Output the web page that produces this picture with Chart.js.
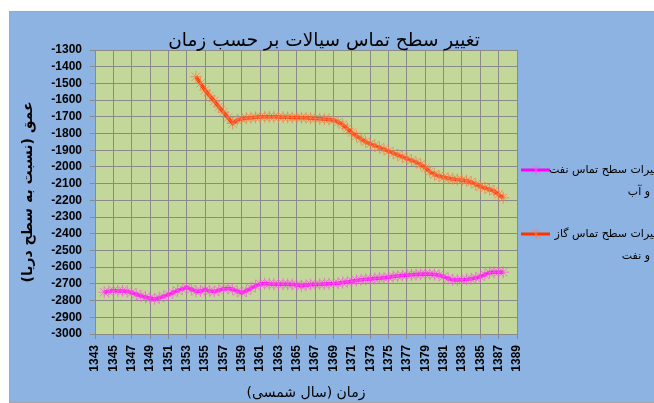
<!DOCTYPE html>
<html>
<head>
<meta charset="utf-8">
<script src="https://cdn.jsdelivr.net/npm/chart.js@4.4.0/dist/chart.umd.min.js"></script>
<style>
    html, body { margin: 0; padding: 0; background: #fff; overflow: hidden; width: 654px; height: 403px; }
    #box { position: absolute; left: 9px; top: 11px; width: 650px; height: 390px; border: 1px solid #a6a6a6; background: #8db3e2; }
</style>
</head>
<body>
<div id="box"><canvas id="depthChart"></canvas></div>
<script>
const ctx_depth = document.querySelector('#depthChart').getContext('2d');

const RLM = '\u200F';
const chart_title = 'تغییر سطح تماس سیالات بر حسب زمان';
const x_title = 'زمان (سال شمسی)' + RLM;
const y_title = 'عمق (نسبت به سطح دریا)' + RLM;

// series names, wrapped on two lines
const legend_lines = [
    ['تغییرات سطح تماس نفت', 'و آب'],
    ['تغییرات سطح تماس گاز', 'و نفت'],
];

// oil-water contact (magenta)
const ow_years = [1344, 1344.5, 1345, 1345.5, 1346, 1346.5, 1347, 1347.5, 1348, 1348.5,
    1349, 1349.5, 1350, 1350.5, 1351, 1351.5, 1352, 1352.5, 1353, 1353.5,
    1354, 1354.5, 1355, 1355.5, 1356, 1356.5, 1357, 1357.5, 1358, 1358.5,
    1359, 1359.5, 1360, 1360.5, 1361, 1361.5, 1362, 1362.5, 1363, 1363.5,
    1364, 1364.5, 1365, 1365.5, 1366, 1366.5, 1367, 1367.5, 1368, 1368.5,
    1369, 1369.5, 1370, 1370.5, 1371, 1371.5, 1372, 1372.5, 1373, 1373.5,
    1374, 1374.5, 1375, 1375.5, 1376, 1376.5, 1377, 1377.5, 1378, 1378.5,
    1379, 1379.5, 1380, 1380.5, 1381, 1381.5, 1382, 1382.5, 1383, 1383.5,
    1384, 1384.5, 1385, 1385.5, 1386, 1386.5, 1387, 1387.5];
const ow_depth = [-2750, -2745, -2740, -2742, -2742, -2745, -2752, -2762, -2772, -2780,
    -2786, -2790, -2784, -2775, -2765, -2752, -2740, -2730, -2722, -2732,
    -2745, -2742, -2736, -2742, -2746, -2738, -2730, -2728, -2732, -2745,
    -2752, -2742, -2726, -2712, -2700, -2698, -2700, -2702, -2702, -2702,
    -2702, -2703, -2706, -2712, -2708, -2704, -2703, -2702, -2700, -2699,
    -2698, -2696, -2692, -2688, -2684, -2679, -2676, -2673, -2671, -2668,
    -2666, -2663, -2660, -2656, -2653, -2650, -2648, -2646, -2644, -2642,
    -2641, -2642, -2644, -2648, -2656, -2668, -2676, -2677, -2676, -2673,
    -2669, -2664, -2657, -2645, -2632, -2630, -2630, -2630];

// gas-oil contact (orange)
const go_years = [1354, 1354.5, 1355, 1355.5, 1356, 1356.5, 1357, 1357.5, 1358, 1358.5,
    1359, 1359.5, 1360, 1360.5, 1361, 1361.5, 1362, 1362.5, 1363, 1363.5,
    1364, 1364.5, 1365, 1365.5, 1366, 1366.5, 1367, 1367.5, 1368, 1368.5,
    1369, 1369.5, 1370, 1370.5, 1371, 1371.5, 1372, 1372.5, 1373, 1373.5,
    1374, 1374.5, 1375, 1375.5, 1376, 1376.5, 1377, 1377.5, 1378, 1378.5,
    1379, 1379.5, 1380, 1380.5, 1381, 1381.5, 1382, 1382.5, 1383, 1383.5,
    1384, 1384.5, 1385, 1385.5, 1386, 1386.5, 1387, 1387.5];
const go_depth = [-1460, -1500, -1540, -1575, -1605, -1640, -1672, -1705, -1740, -1718,
    -1712, -1708, -1705, -1703, -1700, -1700, -1700, -1700, -1701, -1702,
    -1703, -1704, -1704, -1705, -1706, -1708, -1710, -1712, -1714, -1716,
    -1720, -1730, -1748, -1770, -1795, -1815, -1832, -1850, -1862, -1872,
    -1883, -1895, -1905, -1917, -1928, -1940, -1950, -1960, -1972, -1985,
    -2005, -2028, -2045, -2055, -2062, -2068, -2072, -2076, -2079, -2082,
    -2090, -2105, -2118, -2126, -2134, -2145, -2165, -2185];

const x_min = 1343, x_max = 1389, x_step = 2;
const y_min = -3000, y_max = -1300, y_step = 100;

const color_lst = ['#ff00ff', '#ff3300'];
const marker_lst = ['rgba(250, 80, 230, 0.7)', 'rgba(245, 120, 70, 0.75)'];

const grid_color = '#8a8a8a';
const tick_font = {family: 'Liberation Sans', size: 12, weight: 'bold'};

function toPoints(xs, ys) {
    return xs.map((x, i) => ({x: x, y: ys[i]}));
}

// green plot background
const plotBg = {
    id: 'plotBg',
    beforeDraw(chart) {
        const {ctx, chartArea: a} = chart;
        ctx.save();
        ctx.fillStyle = '#c4d79b';
        ctx.fillRect(a.left, a.top, a.right - a.left, a.bottom - a.top);
        ctx.restore();
    }
};

function drawStar(ctx, cx, cy, r) {
    ctx.beginPath();
    ctx.moveTo(cx, cy - r); ctx.lineTo(cx, cy + r);
    const d = r * 0.707;
    ctx.moveTo(cx - d, cy - d); ctx.lineTo(cx + d, cy + d);
    ctx.moveTo(cx - d, cy + d); ctx.lineTo(cx + d, cy - d);
    ctx.stroke();
}

// title + legend on the right (rtl text, two lines)
const sideText = {
    id: 'sideText',
    afterDraw(chart) {
        const ctx = chart.ctx;
        ctx.save();
        ctx.fillStyle = '#000';
        ctx.textBaseline = 'middle';
        ctx.textAlign = 'center';
        ctx.font = '18.5px "DejaVu Sans"';
        ctx.fillText(chart_title, 314, 29);

        const rows = [158, 222];
        ctx.font = '11px "DejaVu Sans"';
        ctx.textAlign = 'right';
        rows.forEach((y, i) => {
            ctx.strokeStyle = color_lst[i];
            ctx.lineWidth = 3;
            ctx.beginPath();
            ctx.moveTo(511, y); ctx.lineTo(540, y);
            ctx.stroke();
            ctx.strokeStyle = marker_lst[i];
            ctx.lineWidth = 1;
            drawStar(ctx, 526, y, 5.5);
            ctx.fillStyle = '#000';
            ctx.fillText(legend_lines[i][0], 655, y);
            ctx.fillText(legend_lines[i][1], 640, y + 22);
        });
        ctx.restore();
    }
};

const data_depth = {
    datasets: [
        {
            label: legend_lines[0].join(' '),
            data: toPoints(ow_years, ow_depth),
        },
        {
            label: legend_lines[1].join(' '),
            data: toPoints(go_years, go_depth),
        },
    ].map((d, i) => Object.assign(d, {
        borderColor: color_lst[i],
        borderWidth: 3.5,
        pointStyle: 'star',
        pointRadius: 6,
        pointBorderWidth: 1,
        pointBorderColor: marker_lst[i],
        pointBackgroundColor: marker_lst[i],
        fill: false,
        tension: 0,
    })),
};

const config_depth = {
    type: 'line',
    data: data_depth,
    plugins: [plotBg, sideText],
    options: {
        responsive: true,
        maintainAspectRatio: false,
        animation: false,
        layout: {padding: {left: 0, right: 143, top: 38, bottom: 0}},
        plugins: {
            legend: {display: false},
            tooltip: {enabled: false},
            title: {display: false},
        },
        scales: {
            x: {
                type: 'linear',
                min: x_min,
                max: x_max,
                afterFit: (s) => { s.height = 68; },
                ticks: {
                    stepSize: x_step,
                    autoSkip: false,
                    minRotation: 90,
                    maxRotation: 90,
                    padding: 6,
                    color: '#000',
                    font: tick_font,
                    callback: (v) => String(v),
                },
                grid: {color: grid_color, tickLength: 5},
                border: {color: grid_color},
                title: {
                    display: true,
                    text: x_title,
                    color: '#000',
                    font: {family: 'DejaVu Sans', size: 14},
                    padding: {top: 0, bottom: 0},
                },
            },
            y: {
                type: 'linear',
                min: y_min,
                max: y_max,
                afterFit: (s) => { s.width = 85; },
                ticks: {
                    stepSize: y_step,
                    autoSkip: false,
                    padding: 8,
                    color: '#000',
                    font: tick_font,
                    callback: (v) => String(v),
                },
                grid: {color: grid_color, tickLength: 5},
                border: {color: grid_color},
                title: {
                    display: true,
                    text: y_title,
                    color: '#000',
                    font: {family: 'DejaVu Sans', size: 14, weight: 'bold'},
                    padding: {top: 10, bottom: 0},
                },
            },
        },
    },
};

new Chart(ctx_depth, config_depth);
</script>
</body>
</html>
